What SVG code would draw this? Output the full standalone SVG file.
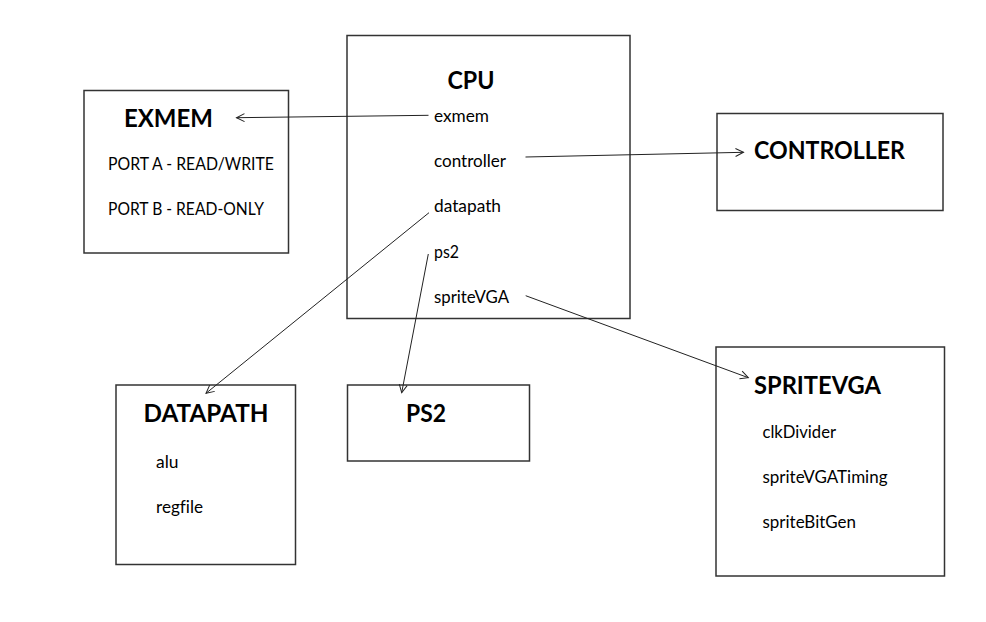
<svg xmlns="http://www.w3.org/2000/svg" width="986" height="622" viewBox="0 0 986 622">
<style>
.box{fill:none;stroke:#333;stroke-width:1.5}
.t{font-family:Lato,"Noto Sans",sans-serif;font-weight:bold;font-size:25px;fill:#000;font-variant-ligatures:none}
.s{font-family:Lato,"Noto Sans",sans-serif;font-size:17px;fill:#000;font-variant-ligatures:none}
.c{fill:none;stroke:#222;stroke-width:1}
</style>
<defs>
<marker id="ah" markerUnits="userSpaceOnUse" markerWidth="12" markerHeight="12" refX="9" refY="5" orient="auto" overflow="visible">
<path d="M1,1 L9,5 L1,9" fill="none" stroke="#222" stroke-width="1"/>
</marker>
</defs>
<rect width="986" height="622" fill="#fff"/>
<g id="exmem">
<rect class="box" x="84" y="90.5" width="204.5" height="162.5"/>
<text class="t" x="124" y="127" textLength="89" lengthAdjust="spacingAndGlyphs">EXMEM</text>
<text class="s" x="108" y="170" textLength="166" lengthAdjust="spacingAndGlyphs">PORT A - READ/WRITE</text>
<text class="s" x="108" y="215" textLength="156" lengthAdjust="spacingAndGlyphs">PORT B - READ-ONLY</text>
</g>
<g id="cpu">
<rect class="box" x="347" y="35.5" width="283" height="283"/>
<text class="t" x="447.5" y="89" textLength="47" lengthAdjust="spacingAndGlyphs">CPU</text>
<text class="s" x="434" y="122" textLength="55" lengthAdjust="spacingAndGlyphs">exmem</text>
<text class="s" x="434" y="167" textLength="72" lengthAdjust="spacingAndGlyphs">controller</text>
<text class="s" x="434" y="212" textLength="67" lengthAdjust="spacingAndGlyphs">datapath</text>
<text class="s" x="434" y="257.5" textLength="25" lengthAdjust="spacingAndGlyphs">ps2</text>
<text class="s" x="434" y="302.5" textLength="75" lengthAdjust="spacingAndGlyphs">spriteVGA</text>
</g>
<g id="controller">
<rect class="box" x="717" y="113.5" width="226" height="97"/>
<text class="t" x="754" y="158.5" textLength="151" lengthAdjust="spacingAndGlyphs">CONTROLLER</text>
</g>
<g id="datapath">
<rect class="box" x="116" y="385" width="179.5" height="179.5"/>
<text class="t" x="143.5" y="421.5" textLength="125" lengthAdjust="spacingAndGlyphs">DATAPATH</text>
<text class="s" x="156" y="468" textLength="22.5" lengthAdjust="spacingAndGlyphs">alu</text>
<text class="s" x="156" y="513" textLength="47" lengthAdjust="spacingAndGlyphs">regfile</text>
</g>
<g id="ps2">
<rect class="box" x="347.5" y="385" width="182" height="76"/>
<text class="t" x="406" y="421.5" textLength="40" lengthAdjust="spacingAndGlyphs">PS2</text>
</g>
<g id="spritevga">
<rect class="box" x="716" y="347" width="228.5" height="229"/>
<text class="t" x="754" y="393.5" textLength="127" lengthAdjust="spacingAndGlyphs">SPRITEVGA</text>
<text class="s" x="762.5" y="437.5" textLength="73.5" lengthAdjust="spacingAndGlyphs">clkDivider</text>
<text class="s" x="762.5" y="483" textLength="125" lengthAdjust="spacingAndGlyphs">spriteVGATiming</text>
<text class="s" x="762.5" y="528" textLength="93.5" lengthAdjust="spacingAndGlyphs">spriteBitGen</text>
</g>
<g id="connectors">
<line class="c" x1="428.5" y1="115.3" x2="236.5" y2="117.7" marker-end="url(#ah)"/>
<line class="c" x1="525.5" y1="157" x2="743.5" y2="152.3" marker-end="url(#ah)"/>
<line class="c" x1="429" y1="212.7" x2="206" y2="393.3" marker-end="url(#ah)"/>
<line class="c" x1="428.3" y1="254" x2="401.7" y2="392.7" marker-end="url(#ah)"/>
<line class="c" x1="525.7" y1="295.7" x2="748.3" y2="377.7" marker-end="url(#ah)"/>
</g>
</svg>
